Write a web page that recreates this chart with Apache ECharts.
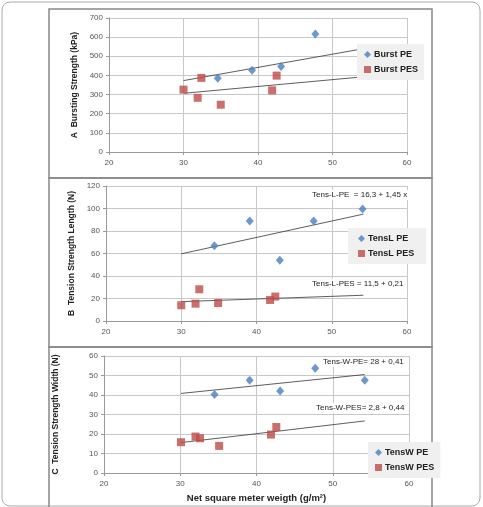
<!DOCTYPE html>
<html>
<head>
<meta charset="utf-8">
<title>Strength vs weight</title>
<style type="text/css">
    *{ margin:0; padding:0; }
    html,body{ width:483px; height:507px; background:#fff; }
    #main{ width:483px; height:507px; }
</style>
</head>
<body>
<div id="main"></div>
<script src="https://cdn.jsdelivr.net/npm/echarts@6/dist/echarts.min.js"></script>
<script type="text/javascript">
// data, x = net square meter weight (g/m2)
var burstPE  = [[34.6, 385], [39.2, 427], [43.1, 446], [47.7, 616]];
var burstPES = [[30.0, 326], [31.9, 283], [32.4, 387], [35.0, 247], [41.9, 322], [42.5, 399]];
var burstPEtrend  = [[30.0, 373], [54.2, 540]];
var burstPEStrend = [[30.1, 307], [54.2, 393]];

var tensLPE  = [[34.4, 67], [39.1, 89], [43.1, 54], [47.6, 89], [54.1, 99.5]];
var tensLPES = [[30.0, 14], [31.9, 15.4], [32.4, 28.2], [34.9, 16], [41.8, 18.7], [42.5, 21.7]];
var tensLPEtrend  = [[30.0, 59.7], [54.2, 95]];
var tensLPEStrend = [[30.0, 17.2], [54.2, 22.9]];

var tensWPE  = [[34.5, 40.3], [39.1, 47.6], [43.1, 42], [47.7, 53.7], [54.2, 47.6]];
var tensWPES = [[30.1, 15.8], [32.0, 18.7], [32.6, 17.8], [35.1, 13.9], [41.9, 19.7], [42.6, 23.6]];
var tensWPEtrend  = [[30.1, 40.8], [54.2, 50.5]];
var tensWPEStrend = [[30.1, 15.6], [54.2, 26.7]];

var yTitles = ['A  Bursting Strength (kPa)', 'B  Tension Strength Length (N)', 'C  Tension Strength Width (N)'];
var xTitle = 'Net square meter weigth (g/m²)';
var equations = ['Tens-L-PE  = 16,3 + 1,45 x', 'Tens-L-PES = 11,5 + 0,21', 'Tens-W-PE= 28 + 0,41', 'Tens-W-PES= 2,8 + 0,44'];

var blue = '#4a7ebb';
var red = '#be4b48';
var font = 'Liberation Sans, Arial, sans-serif';

var myChart = echarts.init(document.getElementById('main'));

function xAxis(idx, name) {
    return {
        gridIndex: idx, type: 'value', min: 20, max: 60, interval: 10,
        name: name || '', nameLocation: 'middle', nameGap: 20,
        nameTextStyle: { fontFamily: font, fontSize: 9.5, fontWeight: 'bold', color: '#222' },
        axisLine: { lineStyle: { color: '#999' } },
        axisTick: { show: true, length: 3, lineStyle: { color: '#999' } },
        axisLabel: { fontFamily: font, fontSize: 8, color: '#555', margin: 7 },
        splitLine: { lineStyle: { color: '#c8c8c8' } }
    };
}
function yAxis(idx, max, interval, name, gap) {
    return {
        gridIndex: idx, type: 'value', min: 0, max: max, interval: interval,
        name: name, nameLocation: 'middle', nameGap: gap,
        nameTextStyle: { fontFamily: font, fontSize: 8.5, fontWeight: 'bold', color: '#222' },
        axisLine: { show: true, lineStyle: { color: '#999' } },
        axisTick: { show: true, length: 3, lineStyle: { color: '#999' } },
        axisLabel: { fontFamily: font, fontSize: 8, color: '#555', margin: 6 },
        splitLine: { lineStyle: { color: '#c8c8c8' } }
    };
}
function dots(name, idx, data, isPE) {
    return {
        name: name, type: 'scatter', xAxisIndex: idx, yAxisIndex: idx, data: data,
        symbol: isPE ? 'diamond' : 'rect', symbolSize: isPE ? [8, 9] : 8,
        itemStyle: { color: isPE ? blue : red }, z: 3
    };
}
function trend(idx, data) {
    return {
        type: 'line', xAxisIndex: idx, yAxisIndex: idx, data: data, symbol: 'none',
        lineStyle: { color: '#333', width: 0.8 }, silent: true, z: 2
    };
}
function legend(names, top, left, pad) {
    return {
        data: names, orient: 'vertical', left: left, top: top, itemGap: 6,
        padding: pad || [6, 6, 6, 7], backgroundColor: '#f0f0f0',
        itemWidth: 7, itemHeight: 7,
        textStyle: { fontFamily: font, fontSize: 9, fontWeight: 'bold', color: '#222', padding: [0, 0, 0, -2] }
    };
}
function eq(text, x, y) {
    return {
        type: 'text', left: x, top: y, z: 10,
        style: { text: text, fontFamily: font, fontSize: 8, fill: '#222', backgroundColor: '#fff', padding: [1, 3] }
    };
}

var option = {
    animation: false,
    grid: [
        { left: 109, right: 76, top: 18, height: 134 },
        { left: 106, right: 76, top: 186, height: 135 },
        { left: 104, right: 74, top: 356, height: 117 }
    ],
    xAxis: [xAxis(0), xAxis(1), xAxis(2, xTitle)],
    yAxis: [yAxis(0, 700, 100, yTitles[0], 27), yAxis(1, 120, 20, yTitles[1], 26), yAxis(2, 60, 10, yTitles[2], 44)],
    legend: [
        legend(['Burst PE', 'Burst PES'], 44, 357),
        legend(['TensL PE', 'TensL PES'], 228, 348, [6, 12, 6, 10]),
        legend(['TensW PE', 'TensW PES'], 442, 368)
    ],
    graphic: [
        { type: 'rect', shape: { x: 2, y: 2, width: 478, height: 504, r: 8 }, style: { fill: 'none', stroke: '#aaa', lineWidth: 1 }, z: -1 },
        { type: 'rect', shape: { x: 49, y: 9, width: 383, height: 169 }, style: { fill: 'none', stroke: '#888', lineWidth: 1.5 }, z: -1 },
        { type: 'rect', shape: { x: 49, y: 178, width: 383, height: 169 }, style: { fill: 'none', stroke: '#888', lineWidth: 1.5 }, z: -1 },
        { type: 'rect', shape: { x: 49, y: 347, width: 383, height: 165 }, style: { fill: 'none', stroke: '#888', lineWidth: 1.5 }, z: -1 },
        eq(equations[0], 309, 190),
        eq(equations[1], 309, 279),
        eq(equations[2], 320, 357),
        eq(equations[3], 313, 403)
    ],
    series: [
        dots('Burst PE', 0, burstPE, true),
        dots('Burst PES', 0, burstPES, false),
        trend(0, burstPEtrend),
        trend(0, burstPEStrend),
        dots('TensL PE', 1, tensLPE, true),
        dots('TensL PES', 1, tensLPES, false),
        trend(1, tensLPEtrend),
        trend(1, tensLPEStrend),
        dots('TensW PE', 2, tensWPE, true),
        dots('TensW PES', 2, tensWPES, false),
        trend(2, tensWPEtrend),
        trend(2, tensWPEStrend)
    ]
};
myChart.setOption(option);
</script>
</body>
</html>
